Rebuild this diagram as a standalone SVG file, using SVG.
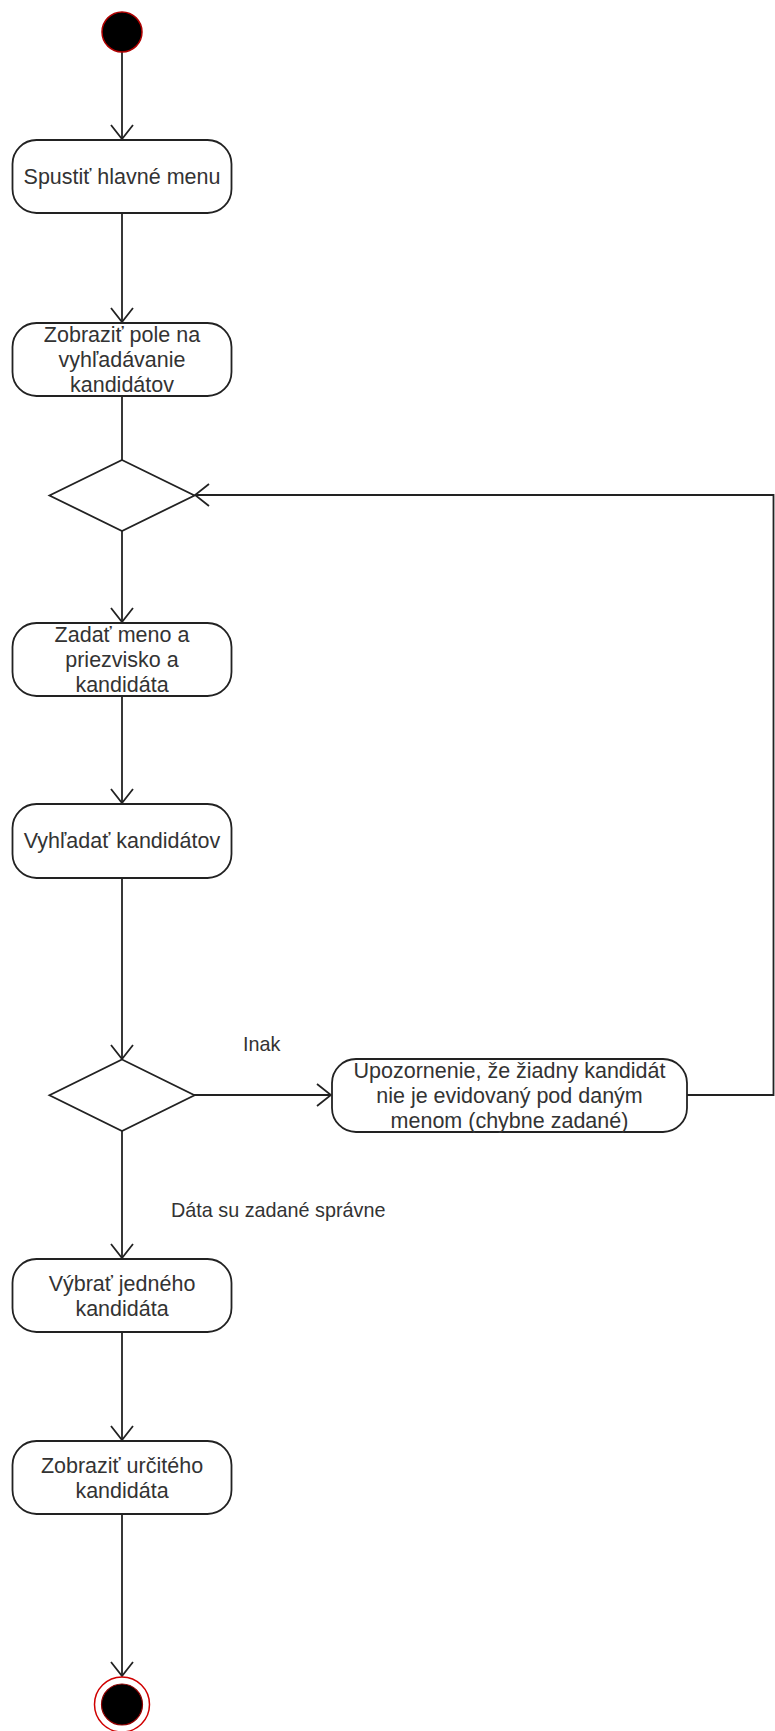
<svg xmlns="http://www.w3.org/2000/svg" width="775" height="1731" viewBox="0 0 775 1731">
<style>
.node{fill:#ffffff;stroke:#222222;stroke-width:1.8}
.t{font-family:"Liberation Sans",Arial,sans-serif;font-size:21.5px;fill:#333333;text-anchor:middle}
.lbl{font-family:"Liberation Sans",Arial,sans-serif;font-size:19.8px;fill:#333333}
.e{fill:none;stroke:#222222;stroke-width:1.8}
</style>
<defs>
<marker id="open" viewBox="0 0 16 24" refX="15" refY="12" markerWidth="16" markerHeight="24" markerUnits="userSpaceOnUse" orient="auto">
<path d="M1,1 L15,12 L1,23" fill="none" stroke="#222222" stroke-width="1.8"/>
</marker>
</defs>
<rect width="775" height="1731" fill="#ffffff"/>
<g id="connectors">
<line class="e" x1="122" y1="52" x2="122" y2="139" marker-end="url(#open)"/>
<line class="e" x1="122" y1="213" x2="122" y2="322" marker-end="url(#open)"/>
<line class="e" x1="122" y1="396" x2="122" y2="460"/>
<line class="e" x1="122" y1="531" x2="122" y2="622" marker-end="url(#open)"/>
<line class="e" x1="122" y1="696" x2="122" y2="803" marker-end="url(#open)"/>
<line class="e" x1="122" y1="878" x2="122" y2="1059" marker-end="url(#open)"/>
<line class="e" x1="194" y1="1095" x2="331" y2="1095" marker-end="url(#open)"/>
<line class="e" x1="122" y1="1131" x2="122" y2="1258" marker-end="url(#open)"/>
<line class="e" x1="122" y1="1332" x2="122" y2="1440" marker-end="url(#open)"/>
<line class="e" x1="122" y1="1514" x2="122" y2="1676" marker-end="url(#open)"/>
<polyline class="e" points="687,1095 773.5,1095 773.5,495 195,495" marker-end="url(#open)"/>
</g>
<g id="start">
<circle cx="122" cy="32" r="20" fill="#000000" stroke="#b00000" stroke-width="1.5"/>
</g>
<g id="n1">
<rect class="node" x="12.5" y="140" width="219" height="73" rx="24" ry="24"/>
<text class="t" x="122" y="184">Spustiť hlavné menu</text>
</g>
<g id="n2">
<rect class="node" x="12.5" y="323" width="219" height="73" rx="24" ry="24"/>
<text class="t" x="122" y="342">Zobraziť pole na</text>
<text class="t" x="122" y="367">vyhľadávanie</text>
<text class="t" x="122" y="392">kandidátov</text>
</g>
<g id="d1">
<polygon class="node" points="122,460 194.5,495.5 122,531 49.5,495.5"/>
</g>
<g id="n3">
<rect class="node" x="12.5" y="623" width="219" height="73" rx="24" ry="24"/>
<text class="t" x="122" y="642">Zadať meno a</text>
<text class="t" x="122" y="667">priezvisko a</text>
<text class="t" x="122" y="692">kandidáta</text>
</g>
<g id="n4">
<rect class="node" x="12.5" y="804" width="219" height="74" rx="24" ry="24"/>
<text class="t" x="122" y="848">Vyhľadať kandidátov</text>
</g>
<g id="d2">
<polygon class="node" points="122,1059.5 194.5,1095.3 122,1131 49.5,1095.3"/>
</g>
<g id="lblInak">
<text class="lbl" x="243" y="1051">Inak</text>
</g>
<g id="n5">
<rect class="node" x="332" y="1059" width="355" height="73" rx="24" ry="24"/>
<text class="t" x="509.5" y="1078">Upozornenie, že žiadny kandidát</text>
<text class="t" x="509.5" y="1103">nie je evidovaný pod daným</text>
<text class="t" x="509.5" y="1128">menom (chybne zadané)</text>
</g>
<g id="lblOk">
<text class="lbl" x="171" y="1217">Dáta su zadané správne</text>
</g>
<g id="n6">
<rect class="node" x="12.5" y="1259" width="219" height="73" rx="24" ry="24"/>
<text class="t" x="122" y="1291">Výbrať jedného</text>
<text class="t" x="122" y="1316">kandidáta</text>
</g>
<g id="n7">
<rect class="node" x="12.5" y="1441" width="219" height="73" rx="24" ry="24"/>
<text class="t" x="122" y="1473">Zobraziť určitého</text>
<text class="t" x="122" y="1498">kandidáta</text>
</g>
<g id="end">
<circle cx="122" cy="1704.5" r="27.5" fill="#ffffff" stroke="#d00000" stroke-width="1.5"/>
<circle cx="122" cy="1704.5" r="20.5" fill="#000000" stroke="#900000" stroke-width="1.2"/>
</g>
</svg>
